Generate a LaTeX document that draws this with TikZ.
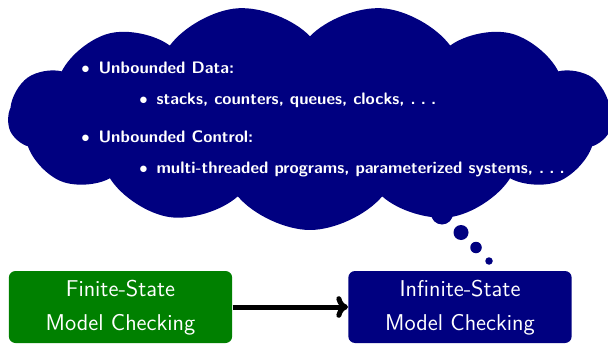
\documentclass[tikz,border=0pt]{standalone}
\usepackage{fontspec}
\usetikzlibrary{shapes.symbols,arrows.meta}
\definecolor{navyc}{RGB}{0,0,128}
\definecolor{greenc}{RGB}{0,128,0}
\newcommand{\sdots}{.\hspace{3.1pt}.\hspace{3.1pt}.}
\newcommand{\twolines}[2]{\raisebox{-2.4pt}{\begin{tabular}{@{}c@{}}#1\\#2\end{tabular}}}
\tikzset{
  mcbox/.style={rounded corners=4pt, text=white, align=center,
    minimum width=134pt, minimum height=43.2pt, inner sep=0pt,
    font=\sffamily\fontsize{13.7}{20.4}\selectfont},
  cloudtext/.style={anchor=base west, text=white, inner sep=0pt,
    font=\sffamily\bfseries\fontsize{10}{12}\selectfont},
  bubble/.style={circle, fill=navyc, inner sep=0pt},
}
\begin{document}
\begin{tikzpicture}[x=0.6pt, y=-0.6pt]
\useasboundingbox (0,0) rectangle (608,344);
% thought cloud
\node[cloud, fill=navyc, cloud puffs=13, cloud puff arc=100, aspect=2.68, rotate=180,
      minimum width=362.4pt, minimum height=135pt, inner sep=0pt] (cl) at (310,117.5) {};
\node[bubble, minimum size=13.2pt] (b1) at (442,213.5) {};
\node[bubble, minimum size=9pt] (b2) at (461,232.5) {};
\node[bubble, minimum size=6.9pt] (b3) at (476,247.5) {};
\node[bubble, minimum size=4.5pt] (b4) at (489,261) {};
% cloud contents
\node[cloudtext] (i1) at (81,74) {$\bullet$\hspace{5.3pt}Unbounded Data:};
\node[cloudtext] (i1a) at (139,104.5) {$\bullet$\hspace{5.3pt}stacks, counters, queues, clocks, \sdots};
\node[cloudtext] (i2) at (81,143) {$\bullet$\hspace{5.3pt}Unbounded Control:};
\node[cloudtext] (i2a) at (139,173.5) {$\bullet$\hspace{5.3pt}multi-threaded programs, parameterized systems, \sdots};
% the two boxes
\node[mcbox, fill=greenc] (fin) at (120.5,307) {\twolines{Finite-State}{Model Checking}};
\node[mcbox, fill=navyc] (inf) at (460,307) {\twolines{Infinite-State}{Model Checking}};
\draw[line width=3pt, -{To[length=7pt,width=13pt]}] (fin) -- (inf);
\end{tikzpicture}
\end{document}
